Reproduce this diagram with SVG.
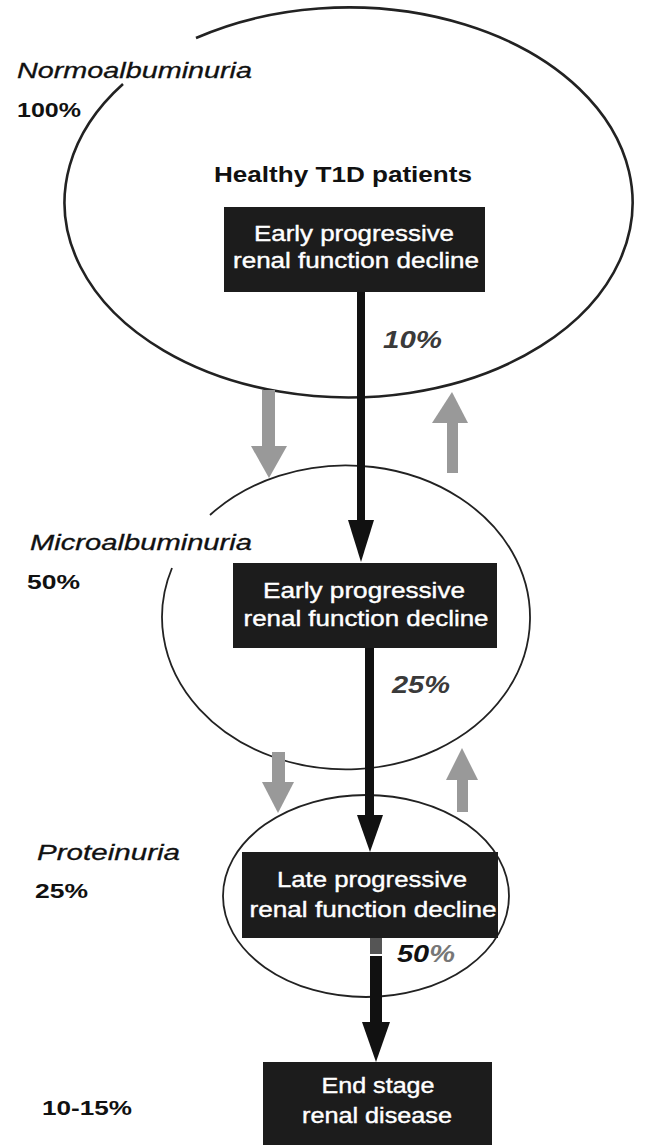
<svg xmlns="http://www.w3.org/2000/svg" width="654" height="1145" viewBox="0 0 654 1145">
<style>
.ell{fill:none;stroke:#222}
.box{fill:#1c1c1c}
.bt{font-family:"Liberation Sans",Arial,sans-serif;font-size:22px;fill:#fff;stroke:#fff;stroke-width:0.4;text-anchor:middle}
.lab{font-family:"Liberation Sans",Arial,sans-serif;font-size:22px;font-style:italic;fill:#111;stroke:#111;stroke-width:0.3}
.pct{font-family:"Liberation Sans",Arial,sans-serif;font-size:20px;font-weight:bold;fill:#111}
.rate{font-family:"Liberation Sans",Arial,sans-serif;font-size:24px;font-weight:bold;font-style:italic;fill:#3a3a3a}
.blk{fill:#111}
.gry{fill:#999}
</style>
<rect width="654" height="1145" fill="#fff"/>

<g id="stage-normo">
<path class="ell" stroke-width="2.6" d="M 196 38 A 284 195 0 1 1 123 84"/>
<text class="lab" x="17" y="78" textLength="235" lengthAdjust="spacingAndGlyphs">Normoalbuminuria</text>
<text class="pct" x="17" y="117" textLength="64" lengthAdjust="spacingAndGlyphs">100%</text>
<text x="343" y="182" font-family="'Liberation Sans',Arial,sans-serif" font-size="22" font-weight="bold" fill="#111" text-anchor="middle" textLength="258" lengthAdjust="spacingAndGlyphs">Healthy T1D patients</text>
</g>

<g id="box-early1">
<rect class="box" x="224" y="207" width="261" height="85"/>
<text class="bt" x="354" y="241" textLength="200" lengthAdjust="spacingAndGlyphs">Early progressive</text>
<text class="bt" x="356" y="268" textLength="246" lengthAdjust="spacingAndGlyphs">renal function decline</text>
</g>

<g id="stage-micro">
<path class="ell" stroke="#333" stroke-width="1.8" d="M 210 515 A 184 152 0 1 1 172 568"/>
<text class="lab" x="30" y="550" textLength="222" lengthAdjust="spacingAndGlyphs">Microalbuminuria</text>
<text class="pct" x="27" y="589" textLength="53" lengthAdjust="spacingAndGlyphs">50%</text>
</g>

<g id="box-early2">
<rect class="box" x="233" y="563" width="264" height="85"/>
<text class="bt" x="364" y="598" textLength="202" lengthAdjust="spacingAndGlyphs">Early progressive</text>
<text class="bt" x="366" y="626" textLength="245" lengthAdjust="spacingAndGlyphs">renal function decline</text>
</g>

<g id="stage-protein">
<ellipse class="ell" stroke="#333" stroke-width="1.8" cx="366" cy="896" rx="143" ry="101"/>
<text class="lab" x="37" y="860" textLength="143" lengthAdjust="spacingAndGlyphs">Proteinuria</text>
<text class="pct" x="35" y="898" textLength="53" lengthAdjust="spacingAndGlyphs">25%</text>
</g>

<g id="box-late">
<rect class="box" x="242" y="852" width="256" height="86"/>
<text class="bt" x="372" y="887" textLength="190" lengthAdjust="spacingAndGlyphs">Late progressive</text>
<text class="bt" x="373" y="917" textLength="247" lengthAdjust="spacingAndGlyphs">renal function decline</text>
</g>

<g id="box-esrd">
<rect class="box" x="263" y="1062" width="229" height="83"/>
<text class="bt" x="378" y="1093" textLength="113" lengthAdjust="spacingAndGlyphs">End stage</text>
<text class="bt" x="377" y="1123" textLength="150" lengthAdjust="spacingAndGlyphs">renal disease</text>
<text class="pct" x="42" y="1115" textLength="90" lengthAdjust="spacingAndGlyphs">10-15%</text>
</g>

<g id="connectors">
<rect class="blk" x="357" y="292" width="8" height="232"/>
<polygon class="blk" points="348,520 374,520 361,562"/>
<text class="rate" x="383" y="348" textLength="59" lengthAdjust="spacingAndGlyphs">10%</text>

<rect class="blk" x="365" y="648" width="9" height="170"/>
<polygon class="blk" points="357,815 383,815 370,852"/>
<text class="rate" x="392" y="693" textLength="58" lengthAdjust="spacingAndGlyphs">25%</text>

<rect x="370" y="938" width="12" height="16" fill="#555"/>
<rect class="blk" x="370" y="956" width="12" height="70"/>
<polygon class="blk" points="362,1022 390,1022 376,1062"/>
<text x="397" y="962" font-family="'Liberation Sans',Arial,sans-serif" font-size="24" font-weight="bold" font-style="italic" textLength="58" lengthAdjust="spacingAndGlyphs"><tspan fill="#111">50</tspan><tspan fill="#777">%</tspan></text>

<rect class="gry" x="262" y="390" width="13" height="58"/>
<polygon class="gry" points="251,446 287,446 269,478"/>
<rect class="gry" x="447" y="421" width="11" height="52"/>
<polygon class="gry" points="432,423 468,423 452,392"/>

<rect class="gry" x="272" y="752" width="13" height="32"/>
<polygon class="gry" points="262,782 294,782 278,813"/>
<rect class="gry" x="457" y="778" width="11" height="34"/>
<polygon class="gry" points="446,780 478,780 462,748"/>
</g>
</svg>
